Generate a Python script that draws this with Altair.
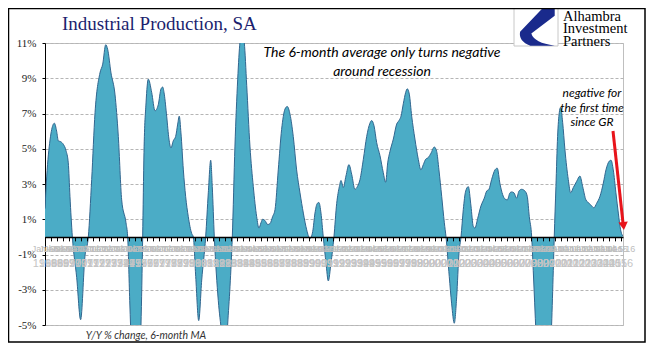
import altair as alt
import pandas as pd

# ---- data ----
dates = [
    1968.00, 1968.14, 1968.42, 1968.56, 1968.78, 1968.97, 1969.11, 1969.31, 1969.53, 1969.75,
    1969.94, 1970.08, 1970.28, 1970.64, 1970.97, 1971.33, 1971.61, 1971.89, 1972.17, 1972.58,
    1972.81, 1973.06, 1973.22, 1973.50, 1973.83, 1974.11, 1974.39, 1974.75, 1974.89, 1975.06,
    1975.14, 1975.31, 1975.60, 1975.85, 1976.00, 1976.14, 1976.25, 1976.42, 1976.61, 1976.89,
    1977.17, 1977.44, 1977.67, 1977.81, 1977.94, 1978.14, 1978.33, 1978.50, 1978.69, 1978.89,
    1979.06, 1979.19, 1979.33, 1979.53, 1979.72, 1979.94, 1980.22, 1980.36, 1980.56, 1980.81,
    1981.06, 1981.39, 1981.61, 1981.81, 1981.94, 1982.11, 1982.44, 1982.72, 1982.90, 1983.10,
    1983.22, 1983.42, 1983.61, 1983.83, 1984.06, 1984.25, 1984.42, 1984.61, 1984.81, 1985.08,
    1985.36, 1985.64, 1985.83, 1986.00, 1986.14, 1986.33, 1986.56, 1986.75, 1986.97, 1987.17,
    1987.44, 1987.72, 1988.00, 1988.19, 1988.42, 1988.69, 1988.97, 1989.25, 1989.53, 1989.81,
    1990.08, 1990.31, 1990.50, 1990.69, 1990.83, 1991.00, 1991.19, 1991.42, 1991.61, 1991.83,
    1992.08, 1992.31, 1992.53, 1992.67, 1992.86, 1993.08, 1993.33, 1993.56, 1993.83, 1994.03,
    1994.25, 1994.53, 1994.81, 1995.08, 1995.22, 1995.42, 1995.64, 1995.92, 1996.19, 1996.39,
    1996.56, 1996.75, 1997.03, 1997.31, 1997.50, 1997.67, 1997.86, 1998.06, 1998.19, 1998.36,
    1998.56, 1998.83, 1999.11, 1999.33, 1999.53, 1999.72, 1999.94, 2000.17, 2000.44, 2000.64,
    2000.83, 2001.06, 2001.28, 2001.42, 2001.69, 2001.89, 2002.11, 2002.31, 2002.50, 2002.67,
    2002.86, 2003.06, 2003.28, 2003.50, 2003.69, 2003.83, 2004.06, 2004.33, 2004.61, 2004.81,
    2005.00, 2005.22, 2005.50, 2005.69, 2005.92, 2006.14, 2006.33, 2006.53, 2006.75, 2006.89,
    2007.08, 2007.31, 2007.50, 2007.72, 2008.00, 2008.19, 2008.36, 2008.56, 2008.69, 2008.92,
    2009.25, 2009.81, 2010.22, 2010.36, 2010.44, 2010.58, 2010.72, 2010.86, 2010.97, 2011.14,
    2011.33, 2011.61, 2011.81, 2012.03, 2012.31, 2012.58, 2012.81, 2013.08, 2013.36, 2013.56,
    2013.75, 2013.97, 2014.25, 2014.53, 2014.75, 2015.03, 2015.17, 2015.36, 2015.58, 2015.78,
    2015.97, 2016.14,
]
yoy_6m_ma = [
    1.6, 3.4, 5.5, 6.1, 6.45, 6.0, 5.45, 5.4, 5.25, 4.9,
    4.2, 2.3, 0.0, -2.3, -4.7, -1.1, 0.0, 3.25, 7.05, 9.3,
    9.8, 10.9, 10.65, 9.3, 8.1, 5.7, 2.1, 0.8, 0.0, -3.6,
    -5.2, -8.5, -9.5, -7.5, -5.0, 0.0, 4.8, 7.6, 8.95, 8.2,
    7.15, 7.5, 8.4, 8.5, 8.1, 6.85, 5.55, 5.05, 5.45, 5.7,
    6.4, 6.85, 5.9, 3.8, 2.3, 1.15, 0.2, 0.0, -2.25, -4.75,
    -2.45, 0.0, 2.5, 4.35, 2.85, 0.0, -3.6, -5.5, -7.0, -6.5,
    -5.0, -2.8, 0.0, 5.15, 8.95, 11.05, 11.6, 11.0, 8.6, 5.15,
    2.85, 1.15, 0.5, 0.8, 1.0, 0.93, 0.7, 0.75, 1.15, 1.55,
    3.8, 6.1, 7.25, 7.4, 6.95, 5.7, 3.8, 2.5, 1.35, 0.4,
    -0.1, 0.3, 1.35, 1.9, 1.95, 1.35, 0.0, -1.5, -2.5, -1.5,
    0.0, 1.9, 2.85, 3.2, 2.8, 3.45, 4.1, 3.55, 2.7, 2.85,
    3.25, 4.4, 5.7, 6.45, 6.6, 6.3, 5.35, 4.6, 3.65, 3.1,
    4.2, 4.85, 5.55, 6.4, 6.6, 6.85, 7.55, 8.2, 8.4, 8.1,
    6.85, 5.55, 4.4, 3.8, 4.1, 4.4, 4.5, 4.75, 5.1, 4.85,
    3.8, 2.3, 0.8, 0.0, -2.25, -3.8, -4.9, -3.4, -0.95, 0.0,
    1.55, 2.6, 2.85, 1.75, 0.6, 0.5, 1.05, 1.75, 2.2, 2.6,
    2.7, 3.25, 3.8, 3.9, 3.0, 2.4, 2.15, 2.1, 2.5, 2.55,
    2.5, 2.2, 2.6, 2.7, 2.6, 2.3, 1.15, 0.0, -1.9, -5.5,
    -10.0, -10.0, -5.0, -1.9, 0.0, 2.85, 5.7, 7.05, 7.35, 6.5,
    4.95, 3.25, 2.5, 2.8, 3.15, 3.45, 2.85, 2.1, 1.9, 1.75,
    1.65, 1.9, 2.3, 3.05, 3.8, 4.3, 4.35, 3.8, 2.5, 1.35,
    0.4, 0.05,
]
y_ticks = [-5, -3, -1, 1, 3, 5, 7, 9, 11]
x_ticks = [1968 + 0.5 * i for i in range(97)]
x_tick_labels2 = [str(int(t)) for t in x_ticks]

title_text = "Industrial Production, SA"
note_main = ["The 6-month average only turns negative", "around recession"]
note_end = ["negative for", "the first time", "since GR"]
source_text = "Y/Y % change, 6-month MA"
logo_lines = ["Alhambra", "Investment", "Partners"]

df = pd.DataFrame({"date": dates, "yoy": yoy_6m_ma})
ticks_df = pd.DataFrame({"date": x_ticks, "lab": x_tick_labels2})

W, H = 578, 282
x_scale = alt.Scale(domain=[1968, 2016.17], nice=False, zero=False)
y_scale = alt.Scale(domain=[-5, 11], nice=False, zero=False)
zero_offset = -(H - 11 / 16 * H)

x_axis = alt.Axis(
    values=x_ticks, orient="bottom", offset=zero_offset, domainColor="black",
    domainWidth=1.5, tickColor="black", tickSize=4, tickWidth=1,
    labelColor="#bdbdbd", labelFontSize=9, labelFont="Liberation Sans",
    labelOverlap=False, labelPadding=4, labelFlush=False, labelBound=False,
    labelExpr="(datum.value % 1 == 0 ? 'Jan-' : 'Jul-') + slice(toString(floor(datum.value)), 2)",
    grid=False, title=None, zindex=1,
)
y_axis = alt.Axis(
    values=y_ticks, labelExpr="datum.value + '%'", domainColor="black", domainWidth=1,
    tickColor="black", tickSize=3, labelPadding=6, labelFont="Liberation Serif",
    labelFontSize=11, labelColor="#222222", grid=True, gridColor="#b5b5b5",
    gridDash=[3, 2], labelOverlap=False, title=None,
)

X = alt.X("date:Q", scale=x_scale, axis=x_axis)
Y = alt.Y("yoy:Q", scale=y_scale, axis=y_axis)

area = alt.Chart(df).mark_area(color="#4bacc6", interpolate="monotone", clip=True).encode(
    x=X, y=Y, y2=alt.datum(0),
)
line = alt.Chart(df).mark_line(color="#31668f", strokeWidth=1, interpolate="monotone", clip=True).encode(
    x=X, y=Y,
)
row2 = alt.Chart(ticks_df).mark_text(fontSize=11, color="#c4c4c4", font="Liberation Sans").encode(
    x=X, y=alt.value(221), text="lab:N",
)


def label(txt, x, y, **kw):
    return alt.Chart(alt.Data(values=[{"t": txt}])).mark_text(**kw).encode(
        x=alt.value(x), y=alt.value(y), text="t:N"
    )


layers = [area, line, row2]
layers.append(label(title_text, 17, -13, align="left", baseline="alphabetic",
                    font="Liberation Serif", fontSize=19, color="#1c1f6e"))
for i, t in enumerate(note_main):
    layers.append(label(t, 337, 10 + 19 * i, align="center", baseline="middle",
                        font="Lato", fontStyle="italic", fontSize=14, color="black"))
for i, t in enumerate(note_end):
    layers.append(label(t, 547, 50 + 14.5 * i, align="center", baseline="middle",
                        font="Lato", fontStyle="italic", fontSize=12, color="black"))
layers.append(label(source_text, 101, 293, align="center", baseline="middle",
                    font="Lato", fontStyle="italic", fontSize=10.5, color="#333333"))

# logo box and swoosh
one = alt.Data(values=[{"a": 1}])
logo_box = alt.Chart(one).mark_rect(fill="white", stroke="#c8c8c8", strokeWidth=1).encode(
    x=alt.value(469), x2=alt.value(513), y=alt.value(-35), y2=alt.value(3)
)
logo_shape = alt.Chart(one).mark_point(
    shape="M 1 -1 L 0.35 -1 L -0.85 0.25 Q -0.95 0.75 -0.3 1 L 1 1 Q -0.1 0.85 -0.25 0.35 L 1 -0.6 Z",
    filled=True, color="#1a2a8c", opacity=1, size=1400,
).encode(x=alt.value(491), y=alt.value(-16))
logo_text = [
    label(t, 518, -22.5 + 12.5 * i, align="left", baseline="alphabetic",
          font="Liberation Serif", fontSize=14.5, color="black")
    for i, t in enumerate(logo_lines)
]

# red arrow
arrow_line = alt.Chart(one).mark_rule(color="#e8141b", strokeWidth=3).encode(
    x=alt.value(568), y=alt.value(88), x2=alt.value(578), y2=alt.value(180)
)
arrow_head = alt.Chart(one).mark_point(
    shape="triangle-down", filled=True, color="#e8141b", opacity=1, size=90, angle=354
).encode(x=alt.value(578.5), y=alt.value(183))

frame = alt.Chart(one).mark_rect(fill=None, stroke="black", strokeWidth=1.5).encode(
    x=alt.value(-36.5), x2=alt.value(600), y=alt.value(-34.5), y2=alt.value(299)
)

chart = alt.layer(*layers, logo_box, logo_shape, *logo_text, arrow_line, arrow_head, frame).properties(
    width=W, height=H,
    autosize=alt.AutoSizeParams(type="none"),
    padding={"left": 37, "top": 35, "right": 30, "bottom": 20},
    background="white",
).configure_view(stroke="#bfbfbf", strokeWidth=1)

chart.save("out.html", embed_options={"renderer": "svg", "actions": False})
